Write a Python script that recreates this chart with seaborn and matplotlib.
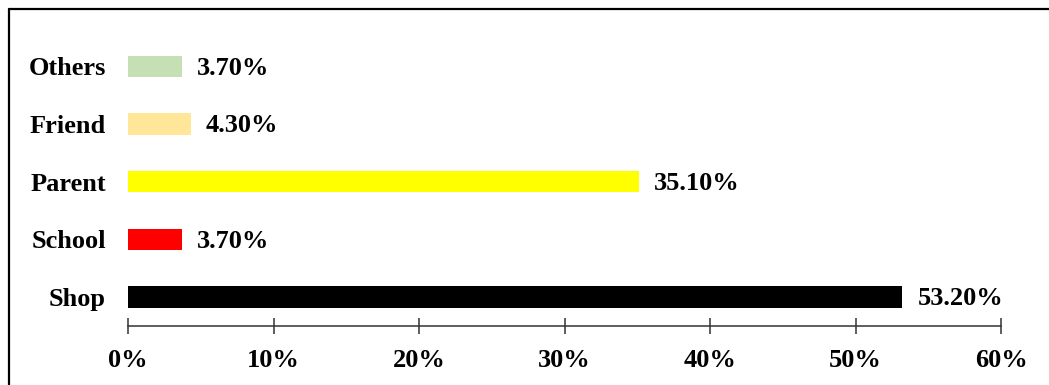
import matplotlib
matplotlib.use('Agg')
import matplotlib.pyplot as plt
import seaborn as sns
import pandas as pd
from matplotlib.lines import Line2D

categories = ['Others', 'Friend', 'Parent', 'School', 'Shop']
values = [3.7, 4.3, 35.1, 3.7, 53.2]
colors = ['#C5E0B4', '#FFE699', '#FFFF00', '#FF0000', '#000000']
xticks = [0, 10, 20, 30, 40, 50, 60]

sns.set_style('white')
plt.rcParams['font.family'] = ['Liberation Serif', 'DejaVu Serif']
plt.rcParams['font.weight'] = 'bold'
plt.rcParams['text.color'] = 'black'
plt.rcParams['xtick.labelcolor'] = 'black'
plt.rcParams['ytick.labelcolor'] = 'black'

df = pd.DataFrame({'source': categories, 'pct': values})

fig = plt.figure(figsize=(10.49, 3.85), dpi=100)
ax = fig.add_axes([128 / 1049, 59 / 385, 873 / 1049, 288.5 / 385])

sns.barplot(data=df, x='pct', y='source', hue='source', palette=colors,
            order=categories, hue_order=categories, legend=False,
            width=0.37, orient='h', ax=ax, saturation=1,
            edgecolor='none', linewidth=0)

for i, v in enumerate(values):
    ax.text(v + 1.05, i + 0.03, '%.2f%%' % v, va='center', ha='left',
            fontsize=19, fontweight='bold', color='black')

ax.set_xlim(0, 60)
ax.set_ylim(4.5, -0.5)
ax.set_xticks(xticks)
ax.set_xticklabels(['%d%%' % t for t in xticks])
ax.set_xlabel('')
ax.set_ylabel('')

for s in ['top', 'right', 'left']:
    ax.spines[s].set_visible(False)
ax.spines['bottom'].set_color('#333333')
ax.spines['bottom'].set_linewidth(1.1)
ax.spines['bottom'].set_position(('data', 4.5))

ax.tick_params(axis='x', direction='inout', length=11, width=1.1,
               color='#333333', labelsize=19, pad=11, bottom=True,
               labelcolor='black')
ax.tick_params(axis='y', length=0, labelsize=19, pad=16, labelcolor='black')
for lab in ax.get_xticklabels() + ax.get_yticklabels():
    lab.set_fontweight('bold')

# frame around the picture (only top and left visible in the crop)
fig.add_artist(Line2D([8.5 / 1049, 1], [1 - 8.5 / 385, 1 - 8.5 / 385],
                      transform=fig.transFigure, color='black', lw=1.6))
fig.add_artist(Line2D([8.5 / 1049, 8.5 / 1049], [0, 1 - 8.5 / 385],
                      transform=fig.transFigure, color='black', lw=1.6))

fig.savefig('out.png', dpi=100)
